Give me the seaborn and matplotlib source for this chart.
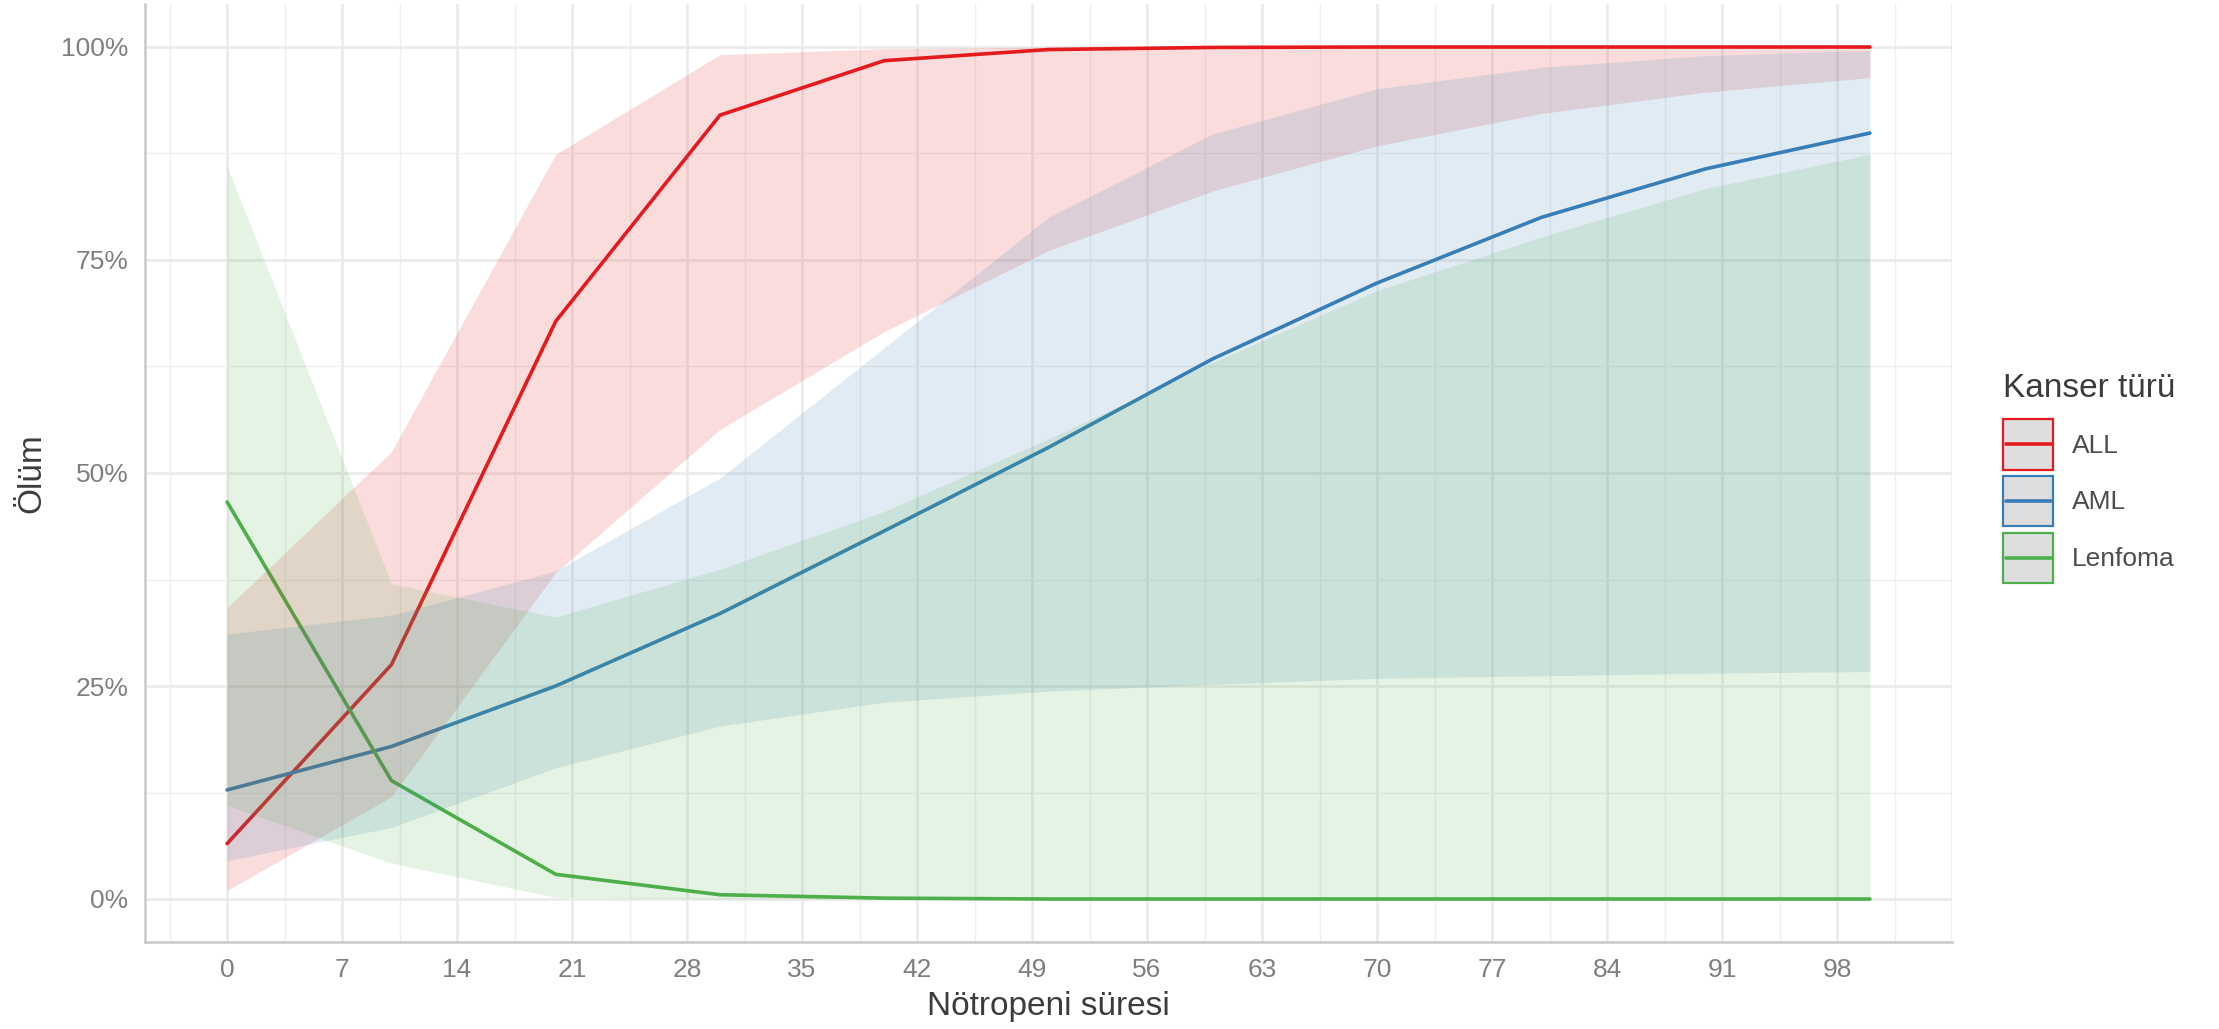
import pandas as pd
import matplotlib
matplotlib.use("Agg")
import matplotlib.pyplot as plt
import seaborn as sns
from matplotlib.patches import Rectangle
from matplotlib.lines import Line2D
from matplotlib.legend_handler import HandlerBase
from matplotlib.ticker import FuncFormatter, MultipleLocator

sns.set_style("white")
plt.rcParams['font.family'] = ['Liberation Sans', 'DejaVu Sans']

# data (percent)
sure = [0, 10, 20, 30, 40, 50, 60, 70, 80, 90, 100]
turler = ["ALL", "AML", "Lenfoma"]

olum_all = [6.5, 27.5, 67.8, 92.0, 98.4, 99.7, 99.95, 100, 100, 100, 100]
alt_all = [1.0, 12.0, 38.3, 55.1, 66.6, 76.1, 83.1, 88.4, 92.2, 94.7, 96.4]
ust_all = [34.2, 52.5, 87.4, 99.1, 99.8, 100, 100, 100, 100, 100, 100]

olum_aml = [12.8, 17.9, 25.0, 33.5, 43.2, 53.0, 63.4, 72.3, 80.0, 85.7, 89.9]
alt_aml = [4.5, 8.4, 15.4, 20.3, 23.1, 24.4, 25.2, 25.9, 26.2, 26.5, 26.7]
ust_aml = [31.1, 33.3, 38.5, 49.4, 64.7, 80.0, 89.8, 95.1, 97.6, 99.0, 99.6]

olum_len = [46.6, 13.9, 2.9, 0.5, 0.1, 0, 0, 0, 0, 0, 0]
alt_len = [11.0, 4.2, 0.2, 0, 0, 0, 0, 0, 0, 0, 0]
ust_len = [86.0, 37.0, 33.1, 38.7, 45.5, 54.0, 63.0, 71.4, 77.7, 83.4, 87.4]

renkler = ["#E41A1C", "#377EB8", "#4DAF4A"]

frames = []
for tur, o, a, u in zip(turler, [olum_all, olum_aml, olum_len],
                        [alt_all, alt_aml, alt_len], [ust_all, ust_aml, ust_len]):
    frames.append(pd.DataFrame({"sure": sure, "olum": o, "alt": a, "ust": u, "tur": tur}))
df = pd.concat(frames, ignore_index=True)


class KeyHandler(HandlerBase):
    # grey box with coloured border and a line through the middle (ggplot style key)
    def create_artists(self, legend, orig_handle, xdescent, ydescent,
                       width, height, fontsize, trans):
        renk = orig_handle.get_color()
        kutu = Rectangle((-xdescent, -ydescent), width, height, facecolor="#DEDEDE",
                         edgecolor=renk, linewidth=1.6, transform=trans)
        yc = -ydescent + height / 2
        cizgi = Line2D([-xdescent + 2, -xdescent + width - 2], [yc, yc], color=renk,
                       linewidth=2.6, transform=trans)
        return [kutu, cizgi]


fig = plt.figure(figsize=(22.19, 10.29), dpi=100)
ax = fig.add_axes([145 / 2219, 87.4 / 1029, (1952 - 145) / 2219, (941.6 - 4.4) / 1029])

sns.lineplot(data=df, x="sure", y="olum", hue="tur", palette=renkler,
             linewidth=2.6, legend=False, ax=ax, zorder=2)

# ribbons drawn over the lines, as in the reference
for tur, renk in zip(turler, renkler):
    d = df[df["tur"] == tur]
    ax.fill_between(d["sure"], d["alt"], d["ust"], color=renk, alpha=0.15,
                    linewidth=0, zorder=3)

ax.set_xlim(-5, 105)
ax.set_ylim(-5, 105)
ax.xaxis.set_major_locator(MultipleLocator(7))
ax.xaxis.set_minor_locator(MultipleLocator(3.5))
ax.yaxis.set_major_locator(MultipleLocator(25))
ax.yaxis.set_minor_locator(MultipleLocator(12.5))
ax.xaxis.set_major_formatter(FuncFormatter(lambda v, p: f"{int(round(v))}" if 0 <= v <= 100 else ""))
ax.yaxis.set_major_formatter(FuncFormatter(lambda v, p: f"{int(round(v))}%" if 0 <= v <= 100 else ""))

ax.grid(which="major", color="#EBEBEB", linewidth=1.9, zorder=0)
ax.grid(which="minor", color="#EFEFEF", linewidth=1.0, zorder=0)
ax.set_axisbelow(True)

for s in ["top", "right"]:
    ax.spines[s].set_visible(False)
for s in ["left", "bottom"]:
    ax.spines[s].set_color("#C8C8C8")
    ax.spines[s].set_linewidth(1.8)

ax.tick_params(axis="both", which="both", length=0, pad=12, labelsize=19, labelcolor="#7F7F7F")
ax.set_xlabel("Nötropeni süresi", fontsize=24, color="#3C3C3C", labelpad=6)
ax.set_ylabel("Ölüm", fontsize=24, color="#3C3C3C", labelpad=10)

handles = [Line2D([], [], color=r) for r in renkler]
leg = fig.legend(handles, turler, title="Kanser türü", loc="upper left",
                 bbox_to_anchor=(1990 / 2219, 1 - 360 / 1029), frameon=False,
                 fontsize=19, title_fontsize=24, handlelength=1.9, handleheight=2.54,
                 labelspacing=0.25, handletextpad=0.7, borderpad=0, alignment="left",
                 handler_map={Line2D: KeyHandler()})
leg._legend_box.sep = 11
leg.get_title().set_color("#3C3C3C")
for t in leg.get_texts():
    t.set_color("#4D4D4D")

fig.savefig("out.png", dpi=100)
